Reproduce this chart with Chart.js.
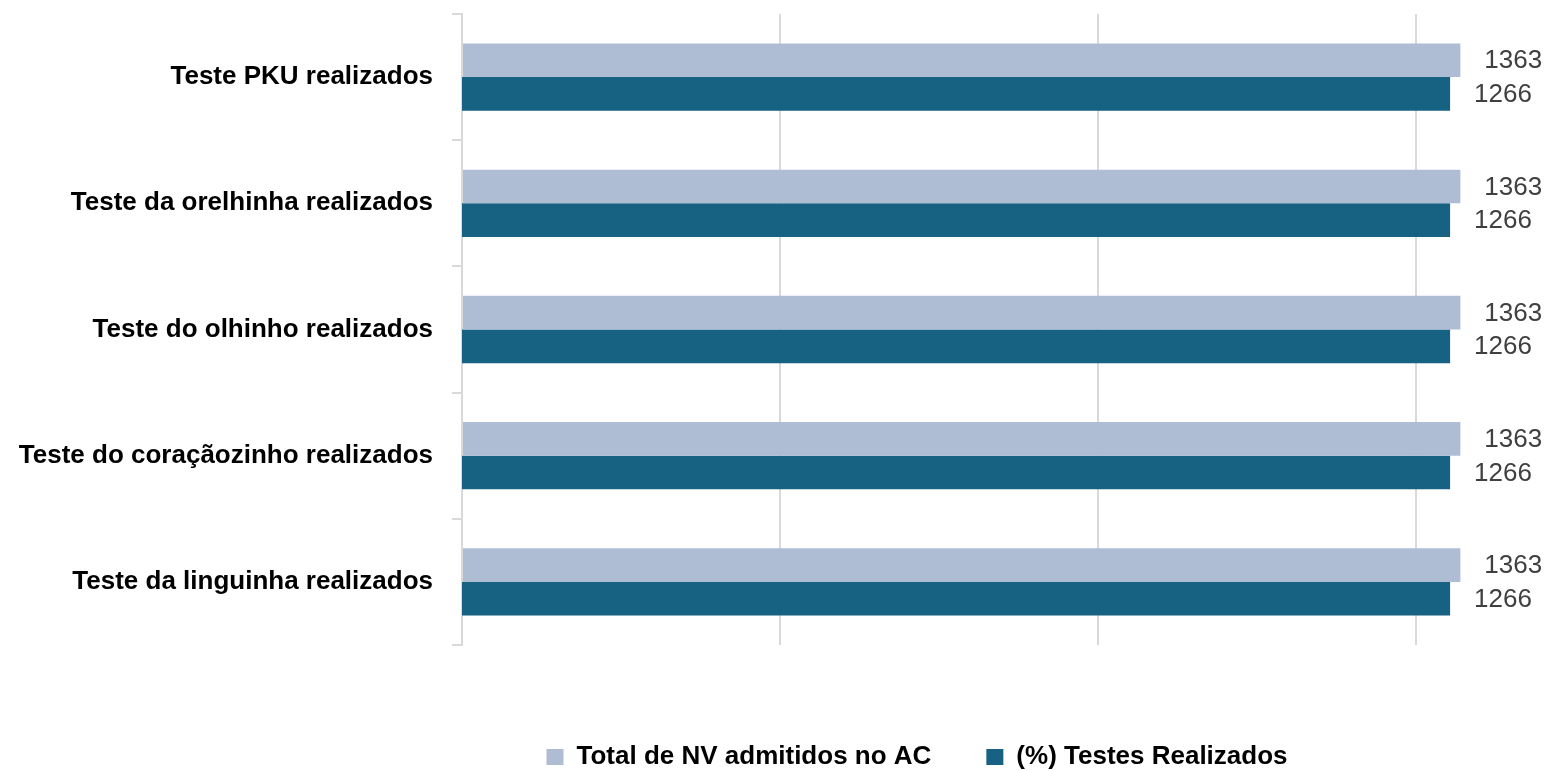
<!DOCTYPE html>
<html>
<head>
<meta charset="utf-8">
<script src="https://cdn.jsdelivr.net/npm/chart.js@4/dist/chart.umd.min.js"></script>
<style>
html,body{margin:0;padding:0;background:#fff;}
#wrap{width:1546px;height:771px;}
</style>
</head>
<body>
<div id="wrap"><canvas id="c" width="1546" height="771"></canvas></div>
<script>
const categories = [
  "Teste PKU realizados",
  "Teste da orelhinha realizados",
  "Teste do olhinho realizados",
  "Teste do coraçãozinho realizados",
  "Teste da linguinha realizados"
];
const seriesNames = ["Total de NV admitidos no AC", "(%) Testes Realizados"];
const totalNV = [1363, 1363, 1363, 1363, 1363];
const testesRealizados = [1266, 1266, 1266, 1266, 1266];
const xGridValues = [0, 434, 868, 1302];
const xMax = 1398;
const x2Max = 1312;

const FONT = '"Liberation Sans", Arial, sans-serif';
const RIGHT_PAD = 60;
const LEGEND_CENTER = 917;

const valueLabels = {
  id: 'valueLabels',
  afterDatasetsDraw(chart) {
    const ctx = chart.ctx;
    ctx.save();
    ctx.font = '26px ' + FONT;
    ctx.fillStyle = '#404040';
    ctx.textAlign = 'left';
    ctx.textBaseline = 'middle';
    chart.data.datasets.forEach((ds, i) => {
      const meta = chart.getDatasetMeta(i);
      meta.data.forEach((bar, j) => {
        ctx.fillText(String(ds.data[j]), bar.x + 24, bar.y + 1);
      });
    });
    ctx.restore();
  }
};

const legendShift = {
  id: 'legendShift',
  afterLayout(chart) {
    const lg = chart.legend;
    if (!lg) return;
    const d = LEGEND_CENTER - (lg.left + lg.right) / 2;
    lg.left += d;
    lg.right += d;
  }
};

new Chart(document.getElementById('c'), {
  type: 'bar',
  data: {
    labels: categories,
    datasets: [
      {
        label: seriesNames[0],
        data: totalNV,
        backgroundColor: '#AEBDD4',
        xAxisID: 'x',
        categoryPercentage: 0.533,
        barPercentage: 1.0
      },
      {
        label: seriesNames[1],
        data: testesRealizados,
        backgroundColor: '#176183',
        xAxisID: 'x2',
        categoryPercentage: 0.533,
        barPercentage: 1.0
      }
    ]
  },
  options: {
    indexAxis: 'y',
    responsive: false,
    animation: false,
    devicePixelRatio: 1,
    layout: { padding: { left: 0, right: RIGHT_PAD, top: 14, bottom: 2 } },
    scales: {
      y: {
        type: 'category',
        offset: true,
        grid: {
          offset: true,
          drawOnChartArea: false,
          drawTicks: true,
          tickLength: 10,
          color: '#D9D9D9',
          lineWidth: 2
        },
        border: { display: true, color: '#D9D9D9', width: 2 },
        ticks: {
          color: '#000000',
          padding: 19,
          font: { family: FONT, size: 26, weight: 'bold' }
        },
        afterFit(scale) {
          scale.width = 462;
          scale.paddingTop = 0;
          scale.paddingBottom = 0;
        }
      },
      x: {
        type: 'linear',
        min: 0,
        max: xMax,
        position: 'bottom',
        grid: { color: '#D9D9D9', lineWidth: 2, drawTicks: false },
        border: { display: false },
        ticks: { display: false },
        afterBuildTicks(scale) {
          scale.ticks = xGridValues.map(v => ({ value: v }));
        },
        afterFit(scale) {
          scale.height = 44;
          scale.paddingLeft = 0;
          scale.paddingRight = 0;
        }
      },
      x2: {
        type: 'linear',
        min: 0,
        max: x2Max,
        display: false
      }
    },
    plugins: {
      legend: {
        display: true,
        position: 'bottom',
        maxHeight: 80,
        labels: {
          boxWidth: 17,
          boxHeight: 16,
          padding: 55,
          color: '#000000',
          font: { family: FONT, size: 26, weight: 'bold' }
        }
      },
      tooltip: { enabled: false }
    }
  },
  plugins: [valueLabels, legendShift]
});
</script>
</body>
</html>
